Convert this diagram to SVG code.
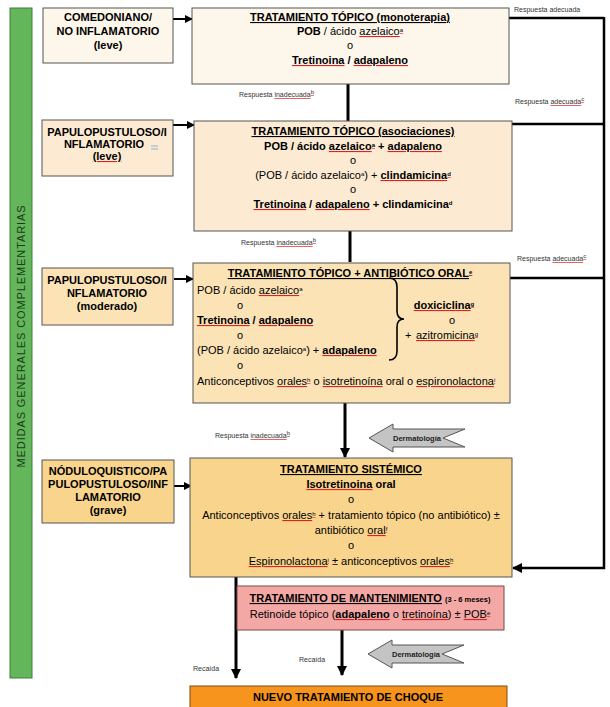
<svg xmlns="http://www.w3.org/2000/svg" width="610" height="707" viewBox="0 0 610 707">
<defs>
<marker id="ah" markerWidth="10" markerHeight="10" refX="9" refY="5" orient="auto" markerUnits="userSpaceOnUse"><path d="M0,0 L10,5 L0,10 z" fill="#000"/></marker>
<marker id="ahs" markerWidth="8" markerHeight="8" refX="7" refY="4" orient="auto" markerUnits="userSpaceOnUse"><path d="M0,0 L8,4 L0,8 z" fill="#000"/></marker>
<style>
text{font-family:"Liberation Sans",Arial,sans-serif;fill:#000}
.t{font-size:11px;font-weight:bold;text-anchor:middle}
.u{text-decoration:underline}
.m{font-size:11px;text-anchor:middle}
.l{font-size:11px}
.bd{font-weight:bold}
.sup{font-size:6px;baseline-shift:super}
.sp{text-decoration:underline;fill:#d22}
.k{fill:#000}
.lab .k{fill:#333}
.lab{font-size:7px;fill:#333}
.box{stroke:#555;stroke-width:1}
.c{fill:none;stroke:#000;stroke-width:3}
.c2{fill:none;stroke:#000;stroke-width:2.5}
.ca{fill:none;stroke:#000;stroke-width:2}
.derm{fill:#c4c4c4;stroke:#555;stroke-width:1}
.dt{font-size:7.5px;font-weight:bold;text-anchor:middle;fill:#222}
</style>
</defs>
<rect width="610" height="707" fill="#fff"/>

<g id="medidas">
<rect x="10" y="8" width="22" height="670" fill="#63b659" stroke="#3f7f3a" stroke-width="1"/>
<text transform="translate(25,336) rotate(-90)" font-size="11" letter-spacing="0.9" text-anchor="middle" style="fill:#1c3a1c">MEDIDAS GENERALES  COMPLEMENTARIAS</text>
</g>

<g id="connectors">
<line class="ca" x1="173" y1="19" x2="192" y2="19" marker-end="url(#ahs)"/>
<line class="ca" x1="173" y1="125" x2="194" y2="125" marker-end="url(#ahs)"/>
<line class="ca" x1="174" y1="279" x2="193" y2="279" marker-end="url(#ahs)"/>
<line class="ca" x1="174" y1="486" x2="191" y2="486" marker-end="url(#ahs)"/>
<path class="c" d="M348,84 V121"/>
<path class="c" d="M350,231 V262"/>
<path class="c" d="M345,403 V457" marker-end="url(#ah)"/>
<path class="c2" d="M509,18 H604"/>
<path class="c2" d="M512,124 H604"/>
<path class="c2" d="M510,278 H604"/>
<path class="c2" d="M604,17 V568 H513" marker-end="url(#ah)"/>
<path class="c" d="M236,577 V678" marker-end="url(#ah)"/>
<path class="c" d="M342,630 V675" marker-end="url(#ah)"/>
<text class="lab" x="514" y="12">Respuesta adecuada</text>
<text class="lab" x="515" y="104">Respuesta <tspan class="sp"><tspan class="k">adecuada<tspan class="sup">c</tspan></tspan></tspan></text>
<text class="lab" x="517" y="261">Respuesta <tspan class="sp"><tspan class="k">adecuada<tspan class="sup">c</tspan></tspan></tspan></text>
<text class="lab" x="239" y="97">Respuesta <tspan class="sp"><tspan class="k">inadecuada<tspan class="sup">b</tspan></tspan></tspan></text>
<text class="lab" x="241" y="245">Respuesta <tspan class="sp"><tspan class="k">inadecuada<tspan class="sup">b</tspan></tspan></tspan></text>
<text class="lab" x="215" y="438">Respuesta <tspan class="sp"><tspan class="k">inadecuada<tspan class="sup">b</tspan></tspan></tspan></text>
<text class="lab" x="193" y="671">Recaída</text>
<text class="lab" x="299" y="662">Recaída</text>
</g>

<g id="derm1">
<polygon class="derm" transform="translate(369,424)" points="0,14 24,0 24,5 96,5 74,14 96,23 24,23 24,28"/>
<text class="dt" x="417" y="441">Dermatología</text>
</g>
<g id="derm2">
<polygon class="derm" transform="translate(368,640)" points="0,14 24,0 24,5 96,5 74,14 96,23 24,23 24,28"/>
<text class="dt" x="416" y="657">Dermatología</text>
</g>

<g id="n-comedoniano">
<rect class="box" x="43" y="8" width="130" height="55" fill="#fdf6ea"/>
<text class="t" x="108" y="21">COMEDONIANO/</text>
<text class="t" x="108" y="35">NO INFLAMATORIO</text>
<text class="t" x="108" y="49">(leve)</text>
</g>

<g id="n-pap-leve">
<rect class="box" x="42" y="120" width="131" height="56" fill="#fcebd2"/>
<text class="t" x="107" y="136">PAPULOPUSTULOSO/I</text>
<text class="t" x="104" y="148">NFLAMATORIO</text>
<path d="M151,146 H158 M151,149 H158" stroke="#8fb0dc" stroke-width="1.2"/>
<text class="t" x="107" y="160"><tspan class="sp"><tspan class="k">(leve)</tspan></tspan></text>
</g>

<g id="n-pap-mod">
<rect class="box" x="42" y="268" width="131" height="57" fill="#fbe3b6"/>
<text class="t" x="107" y="284">PAPULOPUSTULOSO/I</text>
<text class="t" x="107" y="297">NFLAMATORIO</text>
<text class="t" x="107" y="310">(moderado)</text>
</g>

<g id="n-nodulo">
<rect class="box" x="42" y="460" width="132" height="63" fill="#f9d48c"/>
<text class="t" x="108" y="475">NÓDULOQUISTICO/PA</text>
<text class="t" x="108" y="488">PULOPUSTULOSO/INF</text>
<text class="t" x="108" y="501">LAMATORIO</text>
<text class="t" x="108" y="514">(grave)</text>
</g>

<g id="n-monoterapia">
<rect class="box" x="192" y="8" width="317" height="76" fill="#fdf6ea"/>
<text class="t u" x="350" y="21">TRATAMIENTO TÓPICO (monoterapia)</text>
<text class="m" x="350" y="35"><tspan class="bd">POB</tspan> / ácido <tspan class="sp"><tspan class="k">azelaico<tspan class="sup">a</tspan></tspan></tspan></text>
<text class="m" x="350" y="49">o</text>
<text class="t" x="350" y="64"><tspan class="sp"><tspan class="k">Tretinoina</tspan></tspan> / <tspan class="sp"><tspan class="k">adapaleno</tspan></tspan></text>
</g>

<g id="n-asociaciones">
<rect class="box" x="194" y="121" width="318" height="110" fill="#fcebd2"/>
<text class="t u" x="353" y="135">TRATAMIENTO TÓPICO (asociaciones)</text>
<text class="t" x="353" y="150">POB / ácido <tspan class="sp"><tspan class="k">azelaico<tspan class="sup">a</tspan></tspan></tspan> + <tspan class="sp"><tspan class="k">adapaleno</tspan></tspan></text>
<text class="m" x="353" y="164">o</text>
<text class="m" x="353" y="179">(POB / ácido azelaico<tspan class="sup">a</tspan>) + <tspan class="bd sp"><tspan class="k">clindamicina<tspan class="sup">d</tspan></tspan></tspan></text>
<text class="m" x="353" y="193">o</text>
<text class="t" x="353" y="208"><tspan class="sp"><tspan class="k">Tretinoina</tspan></tspan> / <tspan class="sp"><tspan class="k">adapaleno</tspan></tspan> + clindamicina<tspan class="sup">d</tspan></text>
</g>

<g id="n-antibiotico">
<rect class="box" x="193" y="263" width="317" height="140" fill="#fbe3b6"/>
<text class="t u" x="350" y="277">TRATAMIENTO TÓPICO + ANTIBIÓTICO ORAL<tspan class="sup">e</tspan></text>
<text class="l" x="197" y="294">POB / ácido <tspan class="sp"><tspan class="k">azelaico</tspan></tspan><tspan class="sup">a</tspan></text>
<text class="m" x="240" y="309">o</text>
<text class="l bd" x="197" y="324"><tspan class="sp"><tspan class="k">Tretinoina</tspan></tspan> / <tspan class="sp"><tspan class="k">adapaleno</tspan></tspan></text>
<text class="m" x="240" y="339">o</text>
<text class="l" x="197" y="354">(POB / ácido azelaico<tspan class="sup">a</tspan>) + <tspan class="bd sp"><tspan class="k">adapaleno</tspan></tspan></text>
<text class="m" x="240" y="369">o</text>
<text class="l" x="197" y="385">Anticonceptivos <tspan class="sp"><tspan class="k">orales<tspan class="sup">h</tspan></tspan></tspan> o <tspan class="sp"><tspan class="k">isotretinoína</tspan></tspan> oral o <tspan class="sp"><tspan class="k">espironolactona<tspan class="sup">i</tspan></tspan></tspan></text>
<path d="M389,278 Q397,278 397,287 L397,311 Q397,319 404,319 Q397,319 397,327 L397,351 Q397,360 389,360" fill="none" stroke="#000" stroke-width="1.6"/>
<text class="t" x="444" y="309"><tspan class="sp"><tspan class="k">doxiciclina<tspan class="sup">g</tspan></tspan></tspan></text>
<text class="m" x="452" y="324">o</text>
<text class="l" x="405" y="339">+</text>
<text class="m" x="447" y="339"><tspan class="sp"><tspan class="k">azitromicina<tspan class="sup">g</tspan></tspan></tspan></text>
</g>

<g id="n-sistemico">
<rect class="box" x="190" y="458" width="322" height="119" fill="#f9d48c"/>
<text class="t u" x="351" y="473">TRATAMIENTO SISTÉMICO</text>
<text class="t" x="351" y="488"><tspan class="sp"><tspan class="k">Isotretinoina</tspan></tspan> oral</text>
<text class="m" x="351" y="503">o</text>
<text class="m" x="351" y="519">Anticonceptivos <tspan class="sp"><tspan class="k">orales<tspan class="sup">h</tspan></tspan></tspan> + tratamiento tópico (no antibiótico) ±</text>
<text class="m" x="351" y="534">antibiótico <tspan class="sp"><tspan class="k">oral<tspan class="sup">f</tspan></tspan></tspan></text>
<text class="m" x="351" y="549">o</text>
<text class="m" x="351" y="565"><tspan class="sp"><tspan class="k">Espironolactona<tspan class="sup">i</tspan></tspan></tspan> ± anticonceptivos <tspan class="sp"><tspan class="k">orales<tspan class="sup">h</tspan></tspan></tspan></text>
</g>

<g id="n-mantenimiento">
<rect x="237" y="586" width="267" height="44" fill="#f4a8a5" stroke="#7a4a48" stroke-width="1"/>
<text class="t" x="370" y="602"><tspan class="u">TRATAMIENTO DE MANTENIMIENTO</tspan> <tspan font-size="7.5">(3 - 6 meses)</tspan></text>
<text class="m" x="370" y="618">Retinoide tópico (<tspan class="bd sp"><tspan class="k">adapaleno</tspan></tspan> o <tspan class="sp"><tspan class="k">tretinoína</tspan></tspan>) ± <tspan class="sp"><tspan class="k">POB<tspan class="sup">e</tspan></tspan></tspan></text>
</g>

<g id="n-choque">
<rect x="190" y="686" width="317" height="30" fill="#f7941d" stroke="#7a4a10" stroke-width="1"/>
<text class="t" x="348" y="701">NUEVO TRATAMIENTO DE CHOQUE</text>
</g>
</svg>
